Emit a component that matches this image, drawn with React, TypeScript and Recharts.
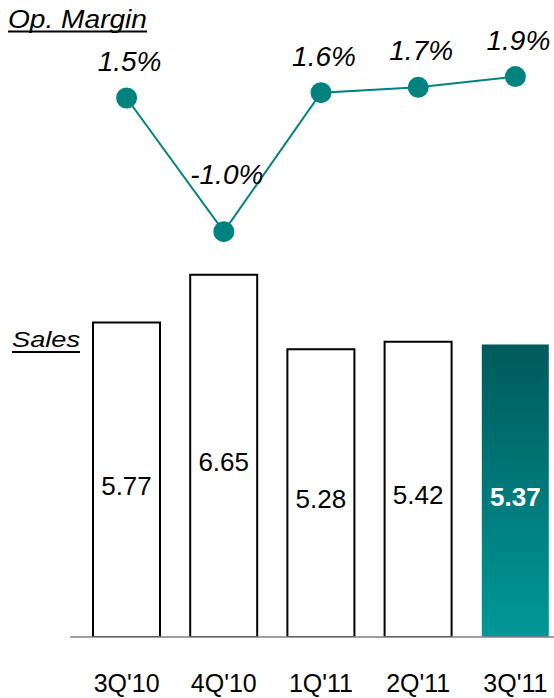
import React from "react";
import { ComposedChart, Bar, Line, XAxis, YAxis, Cell, LabelList } from "recharts";

const quarters = ["3Q'10", "4Q'10", "1Q'11", "2Q'11", "3Q'11"];
const sales = [5.77, 6.65, 5.28, 5.42, 5.37];
const opMargin = [1.5, -1.0, 1.6, 1.7, 1.9];

const data = quarters.map((q, i) => ({ q, sales: sales[i], margin: opMargin[i] }));

const FONT = "'Liberation Sans', Arial, Helvetica, sans-serif";
const TEAL = "#00827f";

const BarValueLabel = (props: any) => {
  const { x, y, width, height, value, index } = props;
  const last = index === quarters.length - 1;
  return (
    <text
      x={x + width / 2}
      y={y + height / 2 + 6}
      textAnchor="middle"
      dominantBaseline="central"
      fontFamily={FONT}
      fontSize={26}
      fontWeight={last ? "bold" : "normal"}
      fill={last ? "#ffffff" : "#000000"}
    >
      {Number(value).toFixed(2)}
    </text>
  );
};

const MarginLabel = (props: any) => {
  const { x, y, value } = props;
  const off = value < 0 ? 48 : 27;
  return (
    <text
      x={x + 3}
      y={y - off}
      textAnchor="middle"
      fontFamily={FONT}
      fontSize={28}
      fontStyle="italic"
      fill="#000000"
    >
      {Number(value).toFixed(1) + "%"}
    </text>
  );
};

export default function App() {
  return (
    <div style={{ position: "absolute", left: 0, top: 0, width: 554, height: 698, overflow: "hidden", background: "#fff" }}>
      <ComposedChart
        width={570}
        height={698}
        data={data}
        margin={{ top: 0, right: 6, bottom: 0, left: 70 }}
      >
        <defs>
          <linearGradient id="lastBar" x1="0" y1="0" x2="0" y2="1">
            <stop offset="0%" stopColor="#005a5b" />
            <stop offset="100%" stopColor="#009898" />
          </linearGradient>
        </defs>
        <XAxis
          dataKey="q"
          height={61}
          padding={{ left: 8, right: 0 }}
          tickLine={false}
          tickSize={0}
          tickMargin={37}
          axisLine={{ stroke: "#808080", strokeWidth: 1.5 }}
          tick={{ fontFamily: FONT, fontSize: 25, fill: "#000" }}
          interval={0}
        />
        <YAxis yAxisId="bar" hide domain={[0, 11.69]} allowDataOverflow type="number" />
        <YAxis yAxisId="line" hide domain={[-8.582, 3.333]} allowDataOverflow type="number" />
        <Bar yAxisId="bar" dataKey="sales" barSize={67} isAnimationActive={false}>
          {data.map((d, i) => (
            <Cell
              key={d.q}
              fill={i === data.length - 1 ? "url(#lastBar)" : "#ffffff"}
              stroke={i === data.length - 1 ? "none" : "#000000"}
              strokeWidth={2}
            />
          ))}
          <LabelList dataKey="sales" content={<BarValueLabel />} />
        </Bar>
        <Line
          yAxisId="line"
          dataKey="margin"
          stroke={TEAL}
          strokeWidth={2}
          dot={{ r: 10.5, fill: TEAL, stroke: "none" }}
          activeDot={false}
          isAnimationActive={false}
        >
          <LabelList dataKey="margin" content={<MarginLabel />} />
        </Line>
      </ComposedChart>
      <svg width={554} height={698} style={{ position: "absolute", left: 0, top: 0, pointerEvents: "none" }}>
        <text x={8} y={28} fontFamily={FONT} fontSize={25} fontStyle="italic" fill="#000" textLength={139} lengthAdjust="spacingAndGlyphs">
          Op. Margin
        </text>
        <line x1={8} y1={31.5} x2={147} y2={31.5} stroke="#000" strokeWidth={2} />
        <text x={12} y={347} fontFamily={FONT} fontSize={22} fontStyle="italic" fill="#000" textLength={68} lengthAdjust="spacingAndGlyphs">
          Sales
        </text>
        <line x1={12} y1={352} x2={80} y2={352} stroke="#000" strokeWidth={2} />
      </svg>
    </div>
  );
}
